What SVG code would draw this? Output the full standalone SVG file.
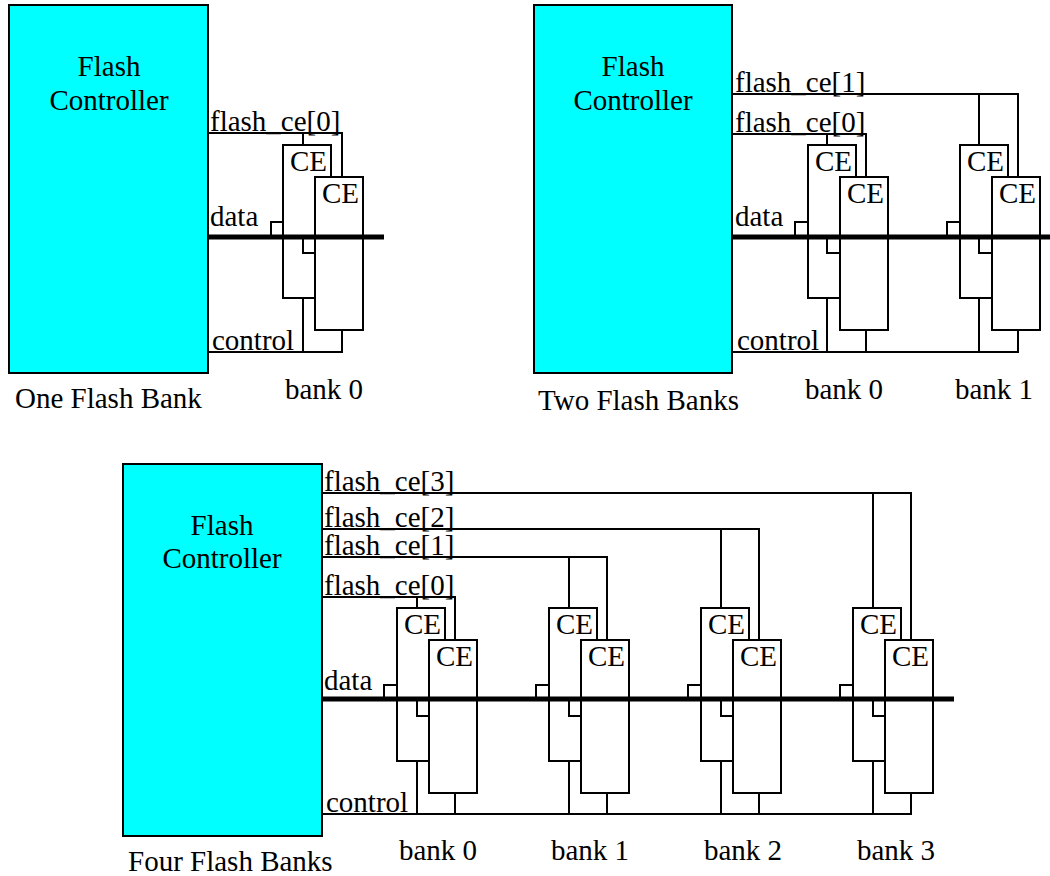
<svg xmlns="http://www.w3.org/2000/svg" width="1050" height="876" viewBox="0 0 1050 876">
<style>
text{font-family:"Liberation Serif","Times New Roman",serif;font-size:29px;fill:#000}
.ctl{fill:#00ffff;stroke:#000;stroke-width:2}
.chip{fill:#fff;stroke:#000;stroke-width:2}
.w{fill:none;stroke:#000;stroke-width:2}
.bus{fill:none;stroke:#000;stroke-width:5}
.mid{text-anchor:middle}
</style>
<defs>
<g id="pair">
<rect class="chip" x="0" y="0" width="48" height="153"/>
<text x="7" y="26">CE</text>
<rect class="chip" x="32" y="32" width="48" height="153"/>
<text x="39" y="58">CE</text>
</g>
</defs>
<rect width="1050" height="876" fill="#fff"/>

<!-- Panel 1 -->
<g id="ctrl1"><rect class="ctl" x="9" y="5" width="199" height="368"/><text class="mid" x="109" y="76">Flash</text><text class="mid" x="109" y="110">Controller</text></g>
<g id="p1bank0"><use href="#pair" x="283" y="145"/></g>

<!-- Panel 2 -->
<g id="ctrl2"><rect class="ctl" x="534" y="5" width="198" height="368"/><text class="mid" x="633" y="76">Flash</text><text class="mid" x="633" y="110">Controller</text></g>
<g id="p2bank0"><use href="#pair" x="808" y="145"/></g>
<g id="p2bank1"><use href="#pair" x="960" y="145"/></g>

<!-- Panel 3 -->
<g id="ctrl3"><rect class="ctl" x="123" y="464" width="199" height="372"/><text class="mid" x="222" y="535">Flash</text><text class="mid" x="222" y="568">Controller</text></g>
<g id="p3bank0"><use href="#pair" x="397" y="608"/></g>
<g id="p3bank1"><use href="#pair" x="549" y="608"/></g>
<g id="p3bank2"><use href="#pair" x="701" y="608"/></g>
<g id="p3bank3"><use href="#pair" x="853" y="608"/></g>

<g id="connectors">
<!-- panel 1 -->
<polyline class="w" points="208,133 342,133 342,177"/>
<line class="w" x1="303" y1="133" x2="303" y2="145"/>
<polyline class="w" points="271,237 271,222 283,222"/>
<polyline class="w" points="303,237 303,253 316,253"/>
<polyline class="w" points="208,352 342,352 342,330"/>
<line class="w" x1="303" y1="298" x2="303" y2="352"/>
<line class="bus" x1="208" y1="237" x2="384" y2="237"/>
<!-- panel 2 -->
<polyline class="w" points="732,94 1018,94 1018,177"/>
<line class="w" x1="979" y1="94" x2="979" y2="145"/>
<polyline class="w" points="732,134 866,134 866,177"/>
<line class="w" x1="827" y1="134" x2="827" y2="145"/>
<polyline class="w" points="795,237 795,222 808,222"/>
<polyline class="w" points="827,237 827,253 840,253"/>
<polyline class="w" points="947,237 947,222 960,222"/>
<polyline class="w" points="979,237 979,253 992,253"/>
<polyline class="w" points="732,352 1018,352 1018,330"/>
<line class="w" x1="827" y1="298" x2="827" y2="352"/>
<line class="w" x1="866" y1="330" x2="866" y2="352"/>
<line class="w" x1="979" y1="298" x2="979" y2="352"/>
<line class="bus" x1="732" y1="237" x2="1050" y2="237"/>
<!-- panel 3 -->
<polyline class="w" points="322,597 455,597 455,640"/>
<line class="w" x1="417" y1="597" x2="417" y2="608"/>
<polyline class="w" points="322,557 607,557 607,640"/>
<line class="w" x1="569" y1="557" x2="569" y2="608"/>
<polyline class="w" points="322,529 759,529 759,640"/>
<line class="w" x1="721" y1="529" x2="721" y2="608"/>
<polyline class="w" points="322,493 911,493 911,640"/>
<line class="w" x1="873" y1="493" x2="873" y2="608"/>
<polyline class="w" points="384,699 384,685 397,685"/>
<polyline class="w" points="417,699 417,716 429,716"/>
<polyline class="w" points="536,699 536,685 549,685"/>
<polyline class="w" points="569,699 569,716 581,716"/>
<polyline class="w" points="688,699 688,685 701,685"/>
<polyline class="w" points="721,699 721,716 733,716"/>
<polyline class="w" points="840,699 840,685 853,685"/>
<polyline class="w" points="873,699 873,716 885,716"/>
<polyline class="w" points="322,814 911,814 911,793"/>
<line class="w" x1="417" y1="761" x2="417" y2="814"/>
<line class="w" x1="455" y1="793" x2="455" y2="814"/>
<line class="w" x1="569" y1="761" x2="569" y2="814"/>
<line class="w" x1="607" y1="793" x2="607" y2="814"/>
<line class="w" x1="721" y1="761" x2="721" y2="814"/>
<line class="w" x1="759" y1="793" x2="759" y2="814"/>
<line class="w" x1="873" y1="761" x2="873" y2="814"/>
<line class="bus" x1="322" y1="699" x2="954" y2="699"/>
</g>

<g id="labels">
<text x="210" y="131">flash_ce[0]</text>
<text x="210" y="226">data</text>
<text x="212" y="350">control</text>
<text x="15" y="408">One Flash Bank</text>
<text x="285" y="399">bank 0</text>

<text x="735" y="92">flash_ce[1]</text>
<text x="735" y="132">flash_ce[0]</text>
<text x="735" y="226">data</text>
<text x="737" y="350">control</text>
<text x="538" y="410">Two Flash Banks</text>
<text x="805" y="399">bank 0</text>
<text x="955" y="399">bank 1</text>

<text x="324" y="491">flash_ce[3]</text>
<text x="324" y="527">flash_ce[2]</text>
<text x="324" y="555">flash_ce[1]</text>
<text x="324" y="595">flash_ce[0]</text>
<text x="324" y="690">data</text>
<text x="326" y="812">control</text>
<text x="128" y="871">Four Flash Banks</text>
<text x="399" y="860">bank 0</text>
<text x="551" y="860">bank 1</text>
<text x="704" y="860">bank 2</text>
<text x="857" y="860">bank 3</text>
</g>
</svg>
